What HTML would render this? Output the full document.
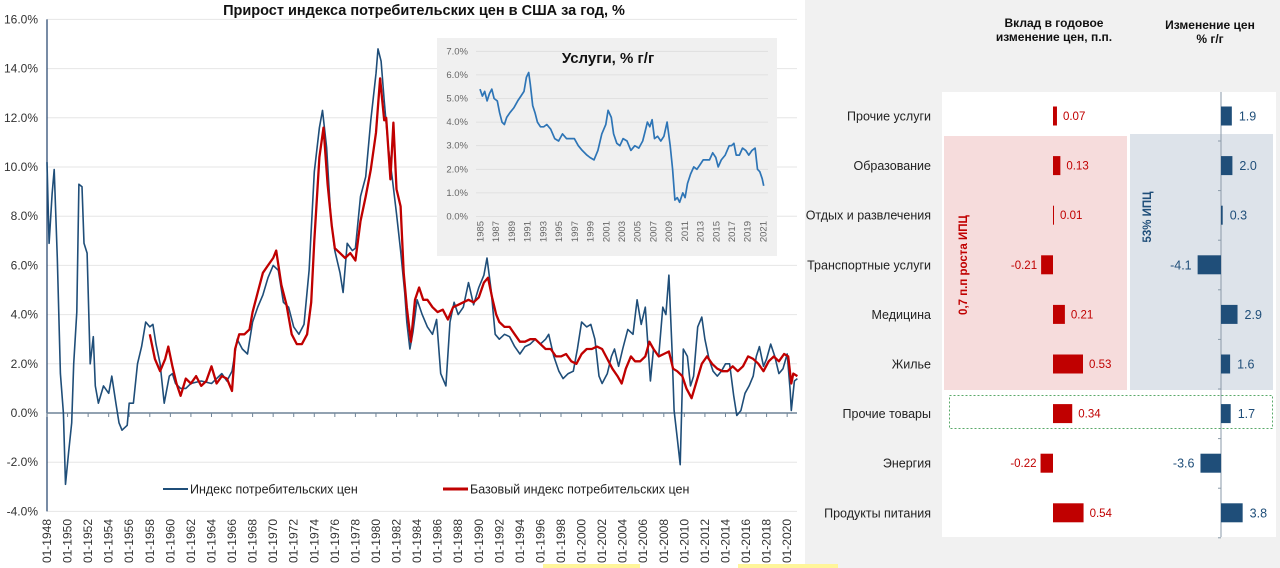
<!DOCTYPE html>
<html><head><meta charset="utf-8">
<style>
html,body{margin:0;padding:0;background:#fff;}
svg{display:block;font-family:"Liberation Sans","DejaVu Sans",sans-serif;}
</style></head>
<body>
<svg id="root" width="1280" height="568" viewBox="0 0 1280 568" xmlns="http://www.w3.org/2000/svg">
  <rect x="0" y="0" width="1280" height="568" fill="#ffffff"/>
  <rect x="805" y="0" width="475" height="568" fill="#f1f1f1"/>
  <rect x="543" y="564" width="97" height="4" fill="#fff59a"/>
  <rect x="738" y="564" width="100" height="4" fill="#fff59a"/>
  <text x="424" y="15" text-anchor="middle" font-size="14.5" font-weight="bold" fill="#111">Прирост индекса потребительских цен  в США за год, %</text>
  <g id="main"></g>
  <g id="inset"></g>
  <g id="right"></g>
</svg>
<script>
// ---------- main chart data ----------
const cpiYears = [1948.0,1948.2,1948.5,1948.7,1949.0,1949.3,1949.6,1949.8,1950.1,1950.4,1950.6,1950.9,1951.1,1951.4,1951.6,1951.9,1952.2,1952.5,1952.7,1953.0,1953.5,1954.0,1954.3,1954.7,1955.0,1955.3,1955.8,1956.0,1956.4,1956.8,1957.2,1957.6,1958.0,1958.3,1958.6,1959.0,1959.4,1959.9,1960.2,1960.5,1961.0,1961.5,1962.0,1963.0,1964.0,1965.0,1965.5,1966.0,1966.5,1967.0,1967.5,1968.0,1968.5,1969.0,1969.5,1970.0,1970.5,1971.0,1971.5,1972.0,1972.5,1973.0,1973.5,1974.0,1974.5,1974.8,1975.2,1975.6,1976.0,1976.5,1976.8,1977.2,1977.7,1978.0,1978.5,1979.0,1979.5,1980.0,1980.2,1980.5,1980.8,1981.2,1981.6,1982.0,1982.4,1982.8,1983.0,1983.3,1983.6,1984.0,1984.5,1985.0,1985.5,1985.9,1986.3,1986.8,1987.2,1987.6,1988.0,1988.5,1989.0,1989.5,1990.0,1990.5,1990.8,1991.2,1991.6,1992.0,1992.5,1993.0,1993.5,1994.0,1994.5,1995.0,1995.5,1996.0,1996.5,1996.8,1997.3,1997.8,1998.2,1998.7,1999.2,1999.6,2000.0,2000.5,2000.9,2001.3,2001.7,2002.0,2002.5,2002.9,2003.2,2003.6,2004.0,2004.5,2005.0,2005.4,2005.8,2006.2,2006.7,2007.0,2007.5,2007.9,2008.2,2008.5,2008.8,2009.0,2009.3,2009.6,2009.9,2010.3,2010.6,2010.9,2011.3,2011.7,2012.0,2012.4,2012.8,2013.2,2013.6,2014.0,2014.4,2014.8,2015.1,2015.5,2015.9,2016.3,2016.7,2017.0,2017.3,2017.7,2018.0,2018.4,2018.8,2019.2,2019.6,2020.0,2020.3,2020.4,2020.7,2021.0];
const cpiValues = [10.2,6.9,8.9,9.9,6.3,1.6,0,-2.9,-1.6,-0.4,2.0,4.1,9.3,9.2,6.9,6.5,2.0,3.1,1.1,0.4,1.1,0.8,1.5,0.4,-0.4,-0.7,-0.5,0.4,0.4,2.0,2.7,3.7,3.5,3.6,2.8,2.0,0.4,1.5,1.6,1.2,1.0,1.0,1.2,1.3,1.2,1.6,1.3,1.7,3.0,2.6,2.4,3.7,4.3,4.8,5.5,6.0,5.8,4.5,4.3,3.5,3.2,3.6,5.8,9.8,11.6,12.3,10.8,8.0,6.6,5.7,4.9,6.9,6.6,6.7,8.8,9.6,11.9,13.8,14.8,14.3,12.7,10.8,9.5,8.1,6.6,4.9,3.7,2.6,3.3,4.6,4.0,3.5,3.2,3.8,1.6,1.1,3.7,4.5,4.0,4.3,5.3,4.4,5.1,5.6,6.3,5.0,3.2,3.0,3.2,3.1,2.7,2.4,2.7,2.8,3.0,2.8,3.0,3.2,2.3,1.7,1.4,1.6,1.7,2.6,3.7,3.5,3.6,3.0,1.5,1.2,1.6,2.3,2.6,1.9,2.6,3.4,3.2,4.6,3.6,4.3,1.3,2.6,2.3,4.3,4.0,5.6,2.6,0.1,-1.0,-2.1,2.6,2.3,1.1,1.5,3.5,3.9,3.0,2.2,1.7,1.5,1.7,2.0,2.0,0.7,-0.1,0.1,0.8,1.1,1.5,2.3,2.7,1.9,2.2,2.8,2.3,1.6,1.8,2.4,0.9,0.1,1.3,1.4];
const coreYears = [1958.0,1958.5,1959.0,1959.5,1959.8,1960.2,1960.6,1961.0,1961.5,1962.0,1962.5,1963.0,1963.5,1964.0,1964.5,1965.0,1965.5,1966.0,1966.3,1966.7,1967.2,1967.7,1968.0,1968.5,1969.0,1969.5,1970.0,1970.3,1970.8,1971.3,1971.8,1972.3,1972.8,1973.3,1973.7,1974.0,1974.5,1974.9,1975.3,1975.7,1976.0,1976.5,1977.0,1977.5,1978.0,1978.5,1979.0,1979.5,1980.0,1980.4,1980.8,1981.0,1981.4,1981.7,1982.0,1982.4,1982.7,1983.0,1983.4,1983.8,1984.2,1984.6,1985.0,1985.5,1986.0,1986.5,1987.0,1987.5,1988.0,1988.5,1989.0,1989.5,1990.0,1990.5,1990.9,1991.3,1991.7,1992.0,1992.5,1993.0,1993.5,1994.0,1994.5,1995.0,1995.5,1996.0,1996.5,1997.0,1997.5,1998.0,1998.5,1999.0,1999.5,2000.0,2000.5,2001.0,2001.5,2002.0,2002.5,2003.0,2003.5,2003.9,2004.3,2004.8,2005.2,2005.7,2006.2,2006.6,2007.0,2007.5,2008.0,2008.5,2008.9,2009.3,2009.8,2010.2,2010.7,2011.2,2011.7,2012.2,2012.7,2013.2,2013.7,2014.2,2014.7,2015.2,2015.7,2016.2,2016.7,2017.2,2017.7,2018.2,2018.7,2019.2,2019.7,2020.1,2020.4,2020.6,2021.0];
const coreValues = [3.2,2.2,1.7,2.2,2.7,1.9,1.2,0.7,1.4,1.2,1.5,1.1,1.3,1.9,1.2,1.5,1.4,0.9,2.6,3.2,3.2,3.4,4.1,4.9,5.7,6.0,6.3,6.6,5.2,4.4,3.2,2.8,2.8,3.2,4.5,7.0,10.4,11.6,9.3,7.6,6.7,6.5,6.3,6.5,6.2,7.8,8.8,9.9,11.4,13.6,11.9,12.0,9.5,11.8,9.1,8.4,5.7,4.3,2.9,4.6,5.1,4.6,4.6,4.3,4.1,4.2,3.8,4.3,4.4,4.5,4.6,4.5,4.7,5.3,5.5,4.7,4.0,3.7,3.5,3.5,3.2,2.9,2.9,3.0,3.0,2.8,2.6,2.6,2.3,2.3,2.4,2.1,2.0,2.4,2.6,2.6,2.7,2.6,2.2,1.8,1.5,1.2,1.8,2.3,2.1,2.1,2.3,2.9,2.6,2.3,2.4,2.5,1.8,1.7,1.5,1.0,0.6,1.3,2.0,2.3,2.0,1.8,1.7,1.7,1.9,1.7,1.9,2.3,2.2,2.0,1.7,2.1,2.3,2.1,2.4,2.3,1.2,1.6,1.5];
const mainYTicks = [16,14,12,10,8,6,4,2,0,-2,-4];
const mainXTickYears = [];
for (let y = 1948; y <= 2020; y += 2) mainXTickYears.push(y);

// ---------- inset data ----------
const svcYears = [1985.0,1985.3,1985.6,1985.9,1986.2,1986.5,1986.8,1987.2,1987.5,1987.8,1988.1,1988.4,1988.8,1989.3,1989.8,1990.2,1990.6,1990.9,1991.2,1991.4,1991.7,1992.0,1992.3,1992.7,1993.1,1993.5,1994.0,1994.5,1995.0,1995.5,1996.0,1996.5,1997.0,1997.5,1998.0,1998.6,1999.0,1999.5,2000.0,2000.5,2001.0,2001.3,2001.7,2002.0,2002.4,2002.8,2003.2,2003.7,2004.2,2004.7,2005.2,2005.7,2006.0,2006.3,2006.6,2006.9,2007.2,2007.6,2008.0,2008.4,2008.8,2009.2,2009.5,2009.8,2010.1,2010.4,2010.8,2011.1,2011.4,2011.8,2012.2,2012.6,2013.0,2013.4,2013.8,2014.2,2014.6,2015.0,2015.3,2015.7,2016.2,2016.7,2017.0,2017.3,2017.6,2018.0,2018.4,2018.8,2019.2,2019.6,2020.0,2020.3,2020.6,2020.9,2021.1];
const svcValues = [5.4,5.1,5.3,4.9,5.2,5.4,5.0,4.9,4.4,4.0,3.9,4.2,4.4,4.6,4.9,5.1,5.3,5.9,6.1,5.6,4.7,4.4,4.0,3.8,3.8,3.9,3.7,3.3,3.2,3.5,3.3,3.3,3.3,3.0,2.8,2.6,2.5,2.4,2.8,3.5,3.9,4.5,4.2,3.5,3.1,3.0,3.3,3.2,2.8,3.0,2.9,3.2,3.6,4.0,3.8,4.1,3.3,3.4,3.2,3.4,4.0,3.0,2.0,0.7,0.8,0.6,1.0,0.8,1.4,1.8,2.1,2.0,2.2,2.4,2.4,2.4,2.7,2.5,2.1,2.4,2.6,3.0,3.0,3.1,2.6,2.6,2.9,2.8,2.6,2.8,2.9,2.0,1.9,1.6,1.3];
const insetYTicks = [0,1,2,3,4,5,6,7];
const insetXTickYears = [];
for (let y = 1985; y <= 2021; y += 2) insetXTickYears.push(y);

// ---------- right panel data ----------
const categories = ["Прочие услуги","Образование","Отдых и развлечения","Транспортные услуги","Медицина","Жилье","Прочие товары","Энергия","Продукты питания"];
const contribValues = [0.07,0.13,0.01,-0.21,0.21,0.53,0.34,-0.22,0.54];
const contribLabels = ["0.07","0.13","0.01","-0.21","0.21","0.53","0.34","-0.22","0.54"];
const changeValues = [1.9,2.0,0.3,-4.1,2.9,1.6,1.7,-3.6,3.8];
const changeLabels = ["1.9","2.0","0.3","-4.1","2.9","1.6","1.7","-3.6","3.8"];

const NS = "http://www.w3.org/2000/svg";
function mk(parent, tag, attrs, text) {
  const el = document.createElementNS(NS, tag);
  for (const k in attrs) el.setAttribute(k, attrs[k]);
  if (text !== undefined) el.textContent = text;
  parent.appendChild(el);
  return el;
}

// ===== Main chart =====
(function(){
  const g = document.getElementById('main');
  const x = yr => 47 + (yr - 1948) * 10.28;
  const y = v => 413 - v * 24.6;
  mainYTicks.forEach(t => {
    if (t !== 0) {
      const gl = mk(g, 'line', {x1:47, x2:797, y1:y(t), y2:y(t), stroke:'#e6e6e6', 'stroke-width':1});
      
      
    }
    const lb = mk(g, 'text', {x:38, y:y(t)+4, 'text-anchor':'end', 'font-size':12, fill:'#333'}, t.toFixed(1) + '%');
    
    
  });
  const ax = mk(g, 'line', {x1:47, x2:47, y1:y(16), y2:y(-4), stroke:'#1f3f6a', 'stroke-width':1.2});
  
  
  const zl = mk(g, 'line', {x1:47, x2:797, y1:y(0), y2:y(0), stroke:'#6f8497', 'stroke-width':1.5});
  
  
  mainXTickYears.forEach(yr => {
    const tk = mk(g, 'line', {x1:x(yr), x2:x(yr), y1:y(0), y2:y(0)+4, stroke:'#6f8497', 'stroke-width':1});
    
    
    const lb = mk(g, 'text', {x:0, y:0, transform:`translate(${x(yr)+4},519) rotate(-90)`, 'text-anchor':'end', 'font-size':12, fill:'#333'}, '01-' + yr);
    
    
  });
  const path = (xs, vs) => xs.map((yr,i) => (i?'L':'M') + x(yr).toFixed(1) + ',' + y(vs[i]).toFixed(1)).join(' ');
  const blue = mk(g, 'path', {d:path(cpiYears, cpiValues), fill:'none', stroke:'#1f4e79', 'stroke-width':1.6, 'stroke-linejoin':'round'});
  
  
  const red = mk(g, 'path', {d:path(coreYears, coreValues), fill:'none', stroke:'#c00000', 'stroke-width':2.3, 'stroke-linejoin':'round'});
  
  
  const l1 = mk(g, 'g', {});
  
  
  mk(l1, 'line', {x1:163, x2:188, y1:489, y2:489, stroke:'#1f4e79', 'stroke-width':2});
  mk(l1, 'text', {x:190, y:493.5, 'font-size':12.5, fill:'#222'}, 'Индекс потребительских цен');
  const l2 = mk(g, 'g', {});
  
  
  mk(l2, 'line', {x1:443, x2:468, y1:489, y2:489, stroke:'#c00000', 'stroke-width':3});
  mk(l2, 'text', {x:470, y:493.5, 'font-size':12.5, fill:'#222'}, 'Базовый индекс потребительских цен');
})();

// ===== Inset =====
(function(){
  const g = document.getElementById('inset');
  const bg = mk(g, 'rect', {x:437, y:38, width:340, height:218, fill:'#f0f0f0'});
  
  
  const x = yr => 480 + (yr - 1985) * 7.86;
  const y = v => 216.5 - v * 23.6;
  insetYTicks.forEach(t => {
    const gl = mk(g, 'line', {x1:476, x2:768, y1:y(t), y2:y(t), stroke:'#dcdcdc', 'stroke-width':0.8});
    
    
    const lb = mk(g, 'text', {x:468, y:y(t)+3, 'text-anchor':'end', 'font-size':9.5, fill:'#666'}, t.toFixed(1) + '%');
    
    
  });
  insetXTickYears.forEach(yr => {
    const lb = mk(g, 'text', {x:0, y:0, transform:`translate(${x(yr)+3.5},221) rotate(-90)`, 'text-anchor':'end', 'font-size':9.5, fill:'#666'}, String(yr));
    
    
  });
  const d = svcYears.map((yr,i) => (i?'L':'M') + x(yr).toFixed(1) + ',' + y(svcValues[i]).toFixed(1)).join(' ');
  const ln = mk(g, 'path', {d:d, fill:'none', stroke:'#2e75b6', 'stroke-width':1.7, 'stroke-linejoin':'round'});
  
  
  const tt = mk(g, 'text', {x:608, y:63, 'text-anchor':'middle', 'font-size':15, 'font-weight':'bold', fill:'#111'}, 'Услуги, % г/г');
  
  
})();

// ===== Right panel =====
(function(){
  const g = document.getElementById('right');
  const pa = mk(g, 'rect', {x:942, y:92, width:334, height:445, fill:'#ffffff'});
  
  
  const hr = mk(g, 'rect', {x:944, y:136, width:183, height:254, fill:'#f6dcdc'});
  
  
  const hb = mk(g, 'rect', {x:1130, y:134, width:143, height:256, fill:'#dde3ea'});
  
  
  const db = mk(g, 'rect', {x:949.5, y:395.5, width:323, height:33, fill:'none', stroke:'#5aaa6a', 'stroke-width':1, 'stroke-dasharray':'2,2'});
  
  

  const h1 = mk(g, 'text', {x:1054, y:27, 'text-anchor':'middle', 'font-size':12, 'font-weight':'bold', fill:'#111'}, 'Вклад в годовое');
  
  
  mk(g, 'text', {x:1054, y:41, 'text-anchor':'middle', 'font-size':12, 'font-weight':'bold', fill:'#111'}, 'изменение цен, п.п.');
  const h2 = mk(g, 'text', {x:1210, y:29, 'text-anchor':'middle', 'font-size':12, 'font-weight':'bold', fill:'#111'}, 'Изменение цен');
  
  
  mk(g, 'text', {x:1210, y:43, 'text-anchor':'middle', 'font-size':12, 'font-weight':'bold', fill:'#111'}, '% г/г');

  const v1 = mk(g, 'text', {x:0, y:0, transform:'translate(967,265) rotate(-90)', 'text-anchor':'middle', 'font-size':11.5, 'font-weight':'bold', fill:'#c00000'}, '0,7 п.п роста ИПЦ');
  
  
  const v2 = mk(g, 'text', {x:0, y:0, transform:'translate(1151,217) rotate(-90)', 'text-anchor':'middle', 'font-size':11.5, 'font-weight':'bold', fill:'#1f4e79'}, '53% ИПЦ');
  
  

  const rowY = i => 116 + i * 49.6;
  const cx0 = 1053, cs = 56.6;
  const px0 = 1221, ps = 5.7;
  const ax = mk(g, 'line', {x1:px0, x2:px0, y1:92, y2:537, stroke:'#8a9aa8', 'stroke-width':1});
  
  
  categories.forEach((c, i) => {
    const ty = rowY(i);
    const tk = mk(g, 'line', {x1:px0-3, x2:px0, y1:ty+25, y2:ty+25, stroke:'#8a9aa8', 'stroke-width':1});
    
    
    const lb = mk(g, 'text', {x:931, y:ty+4.5, 'text-anchor':'end', 'font-size':12.5, fill:'#222'}, c);
    
    
    const cv = contribValues[i];
    const w1 = Math.max(Math.abs(cv) * cs, 1);
    const b1 = mk(g, 'rect', {x: cv >= 0 ? cx0 : cx0 - w1, y:ty-9.5, width:w1, height:19, fill:'#c00000'});
    
    
    const t1 = mk(g, 'text', {x: cv >= 0 ? cx0 + w1 + 6 : cx0 - w1 - 4, y:ty+4, 'text-anchor': cv >= 0 ? 'start' : 'end', 'font-size':11.5, fill:'#c00000'}, contribLabels[i]);
    
    
    const pv = changeValues[i];
    const w2 = Math.max(Math.abs(pv) * ps, 1.2);
    const b2 = mk(g, 'rect', {x: pv >= 0 ? px0 : px0 - w2, y:ty-9.5, width:w2, height:19, fill:'#1f4e79'});
    
    
    const t2 = mk(g, 'text', {x: pv >= 0 ? px0 + w2 + 7 : px0 - w2 - 6, y:ty+4.5, 'text-anchor': pv >= 0 ? 'start' : 'end', 'font-size':12.5, fill:'#1f4e79'}, changeLabels[i]);
    
    
  });
})();
</script>
</body></html>
